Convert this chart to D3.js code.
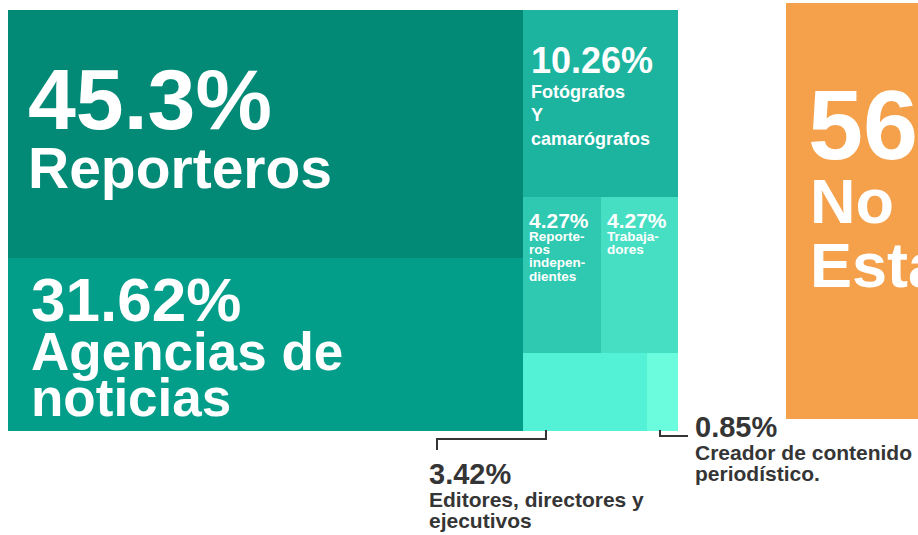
<!DOCTYPE html>
<html lang="es">
<head>
<meta charset="UTF-8">
<title>Treemap</title>
<style>
  body { margin: 0; background: #fff; }
  svg { display: block; font-family: "Liberation Sans", Arial, Helvetica, sans-serif; font-weight: bold; }
  .celda text, .otro text { fill: #fff; }
  .nota text { fill: #353535; }
  .nota path { fill: none; stroke: #353535; stroke-width: 2; }
</style>
</head>
<body>
<svg width="918" height="535"></svg>
<script src="https://d3js.org/d3.v7.min.js"></script>
<script>

var categorias = ["Reporteros", "Agencias de noticias", "Fotógrafos Y camarógrafos",
    "Reporteros independientes", "Trabajadores", "Editores, directores y ejecutivos",
    "Creador de contenido periodístico."];
var porcentajes = [45.3, 31.62, 10.26, 4.27, 4.27, 3.42, 0.85];
// rama del arbol de cada categoria
var ramas = ["izq", "izq", "der", "der/medio", "der/medio", "der/abajo", "der/abajo"];
// como se parte el texto en cada caja
var lineas = [
    ["Reporteros"],
    ["Agencias de", "noticias"],
    ["Fotógrafos", "Y", "camarógrafos"],
    ["Reporte-", "ros", "indepen-", "dientes"],
    ["Trabaja-", "dores"],
    ["Editores, directores y", "ejecutivos"],
    ["Creador de contenido", "periodístico."]
];

var otrosLineas = ["No", "Estables"];
var otrosPorcentajes = [56];

var colores = ["#028a77", "#039e8a", "#1cb49f", "#2fc8b1", "#47dfc4", "#53f2d7", "#6bfbdd"];

// estilos del texto (pct = tamaño del porcentaje, lab = tamaño de la etiqueta)
var estilos = [
    {pct: 86, lab: 57, dx: 20, base: -5, gap: 59, lh: 0, ancla: "centro"},
    {pct: 62, lab: 53, dx: 23, base: -23.5, gap: 49, lh: 46, ancla: "centro"},
    {pct: 36, lab: 18, dx: 8, base: -31, gap: 25, lh: 23.5, ancla: "centro"},
    {pct: 21, lab: 13.5, dx: 6, base: 31, gap: 12.7, lh: 13.3, ancla: "arriba"},
    {pct: 21, lab: 13.5, dx: 6, base: 31, gap: 12.7, lh: 13.3, ancla: "arriba"},
    {pct: 29, lab: 21, gap: 23, lh: 21, ancla: "nota"},
    {pct: 29, lab: 21, gap: 23, lh: 21, ancla: "nota"}
];

var svg = d3.select("svg");

// armar el arbol a partir de las ramas
var arbol = {children: []};
ramas.forEach(function(r, i) {
    var nodo = arbol;
    r.split("/").forEach(function(k) {
        var hijo = nodo.children.find(function(c) { return c.key === k; });
        if (!hijo) {
            hijo = {key: k, children: []};
            nodo.children.push(hijo);
        }
        nodo = hijo;
    });
    nodo.children.push({i: i, nombre: categorias[i], valor: porcentajes[i]});
});

var root = d3.hierarchy(arbol).sum(function(d) { return d.valor || 0; });

d3.treemap()
    .tile(d3.treemapSliceDice)
    .size([670, 421])
    .round(true)(root);

var color = d3.scaleOrdinal(categorias, colores);

var g = svg.append("g").attr("transform", "translate(8,10)");

var celda = g.selectAll(".celda")
    .data(root.leaves())
    .enter().append("g")
    .attr("class", "celda");

celda.append("rect")
    .attr("x", function(d) { return d.x0; })
    .attr("y", function(d) { return d.y0; })
    .attr("width", function(d) { return d.x1 - d.x0; })
    .attr("height", function(d) { return d.y1 - d.y0; })
    .attr("fill", function(d) { return color(d.data.nombre); });

// texto dentro de las cajas
celda.filter(function(d) { return estilos[d.data.i].ancla !== "nota"; })
    .each(function(d) {
        var e = estilos[d.data.i];
        var sel = d3.select(this);
        var x = d.x0 + e.dx;
        var y = e.ancla === "centro" ? (d.y0 + d.y1) / 2 + e.base : d.y0 + e.base;
        sel.append("text")
            .attr("x", x).attr("y", y)
            .style("font-size", e.pct + "px")
            .text(d.data.valor + "%");
        lineas[d.data.i].forEach(function(t, k) {
            sel.append("text")
                .attr("x", x).attr("y", y + e.gap + k * e.lh)
                .style("font-size", e.lab + "px")
                .text(t);
        });
    });

// notas fuera de las cajas chicas
var nota = g.selectAll(".nota")
    .data(root.leaves().filter(function(d) { return estilos[d.data.i].ancla === "nota"; }))
    .enter().append("g")
    .attr("class", "nota");

nota.each(function(d, j) {
    var e = estilos[d.data.i];
    var sel = d3.select(this);
    var p = d3.path(), tx, ty;
    if (j === 0) {
        p.moveTo(d.x0 + 23, d.y1 - 1);
        p.lineTo(d.x0 + 23, d.y1 + 8);
        p.lineTo(d.x0 - 86, d.y1 + 8);
        p.lineTo(d.x0 - 86, d.y1 + 19);
        tx = d.x0 - 94; ty = d.y1 + 53;
    } else {
        p.moveTo(d.x0 + 13, d.y1 - 1);
        p.lineTo(d.x0 + 13, d.y1 + 5);
        p.lineTo(d.x1 + 10, d.y1 + 5);
        tx = d.x1 + 17; ty = d.y1 + 6;
    }
    sel.append("path").attr("d", p.toString());
    sel.append("text")
        .attr("x", tx).attr("y", ty)
        .style("font-size", e.pct + "px")
        .text(d.data.valor + "%");
    lineas[d.data.i].forEach(function(t, k) {
        sel.append("text")
            .attr("x", tx).attr("y", ty + e.gap + k * e.lh)
            .style("font-size", e.lab + "px")
            .text(t);
    });
});

// bloque naranja (otro grupo, recortado por el borde)
var ancho = d3.scaleLinear().domain([0, 100]).range([0, 420]);

var otro = svg.selectAll(".otro")
    .data(otrosPorcentajes)
    .enter().append("g")
    .attr("class", "otro")
    .attr("transform", "translate(786,3)");

otro.append("rect")
    .attr("width", function(d) { return ancho(d); })
    .attr("height", 416)
    .attr("fill", "#f5a04b");

otro.append("text")
    .attr("x", 22).attr("y", 156)
    .style("font-size", "99px")
    .text(function(d) { return d + "%"; });

otrosLineas.forEach(function(t, k) {
    otro.append("text")
        .attr("x", 24).attr("y", 220 + k * 64)
        .style("font-size", "63px")
        .text(t);
});

</script>
</body>
</html>
